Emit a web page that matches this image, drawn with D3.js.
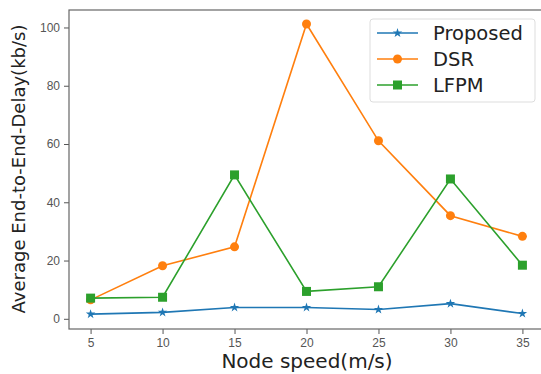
<!DOCTYPE html>
<html>
<head>
<meta charset="utf-8">
<script src="https://cdn.jsdelivr.net/npm/d3@7"></script>
<style>
  body { margin: 0; background: #fff; }
  svg { display: block; font-family: "DejaVu Sans", sans-serif; }
</style>
</head>
<body>
<svg width="541" height="374"></svg>
<script>
// node speed values on the x axis
let speeds = [5, 10, 15, 20, 25, 30, 35];
let proposed = [1.6, 2.2, 3.9, 3.9, 3.2, 5.2, 1.8];
let dsr = [6.5, 18.2, 24.7, 101.2, 61.1, 35.4, 28.3];
let lfpm = [7.1, 7.4, 49.4, 9.4, 11.0, 48.0, 18.4];
let yTicks = [0, 20, 40, 60, 80, 100];

let series = [
    {name: "Proposed", values: proposed, color: "#1f77b4", marker: "star"},
    {name: "DSR", values: dsr, color: "#ff7f0e", marker: "circle"},
    {name: "LFPM", values: lfpm, color: "#2ca02c", marker: "square"},
];

let svg = d3.select("svg");
let plotLeft = 69, plotRight = 544, plotTop = 10, plotBottom = 329;

let x = d3.scaleLinear().domain([3.5, 36.5]).range([plotLeft, plotRight]);
let y = d3.scaleLinear().domain([-3.5, 106]).range([plotBottom, plotTop]);

// axes
let xAxis = svg.append("g")
    .attr("transform", "translate(0," + plotBottom + ")")
    .call(d3.axisBottom(x).tickValues(speeds).tickSize(5).tickPadding(4));
let yAxis = svg.append("g")
    .attr("transform", "translate(" + plotLeft + ",0)")
    .call(d3.axisLeft(y).tickValues(yTicks).tickSize(5).tickPadding(4));

[xAxis, yAxis].forEach(a => {
    a.select(".domain").remove();
    a.selectAll("line").attr("stroke", "#555").attr("stroke-width", 1);
    a.selectAll("text").attr("fill", "#555").style("font-size", "12px");
});

// frame
svg.append("rect")
    .attr("x", plotLeft).attr("y", plotTop)
    .attr("width", plotRight - plotLeft).attr("height", plotBottom - plotTop)
    .attr("fill", "none").attr("stroke", "#666").attr("stroke-width", 1.2);

let line = d3.line()
    .x((d, i) => x(speeds[i]))
    .y(d => y(d));

function drawMarker(g, type, color, cx, cy) {
    if (type === "circle") {
        g.append("circle").attr("cx", cx).attr("cy", cy).attr("r", 4.5).attr("fill", color);
    } else if (type === "square") {
        g.append("rect").attr("x", cx - 4.5).attr("y", cy - 4.5)
            .attr("width", 9).attr("height", 9).attr("fill", color);
    } else {
        g.append("path")
            .attr("d", d3.symbol().type(d3.symbolStar).size(28)())
            .attr("transform", "translate(" + cx + "," + cy + ")")
            .attr("fill", color);
    }
}

series.forEach(s => {
    svg.append("path")
        .datum(s.values)
        .attr("d", line)
        .attr("fill", "none")
        .attr("stroke", s.color)
        .attr("stroke-width", 1.6);
    let g = svg.append("g");
    s.values.forEach((v, i) => drawMarker(g, s.marker, s.color, x(speeds[i]), y(v)));
});

// axis labels
svg.append("text")
    .attr("x", 307).attr("y", 368)
    .attr("text-anchor", "middle")
    .attr("fill", "#222")
    .style("font-size", "20px")
    .text("Node speed(m/s)");

svg.append("text")
    .attr("transform", "translate(25,169) rotate(-90)")
    .attr("text-anchor", "middle")
    .attr("fill", "#222")
    .style("font-size", "18px")
    .text("Average End-to-End-Delay(kb/s)");

// legend
let legend = svg.append("g");
legend.append("rect")
    .attr("x", 370).attr("y", 19)
    .attr("width", 165).attr("height", 83)
    .attr("rx", 3)
    .attr("fill", "#fff").attr("stroke", "#ddd").attr("stroke-width", 1);

series.forEach((s, i) => {
    let cy = 33 + i * 26;
    legend.append("line")
        .attr("x1", 377).attr("x2", 418)
        .attr("y1", cy).attr("y2", cy)
        .attr("stroke", s.color).attr("stroke-width", 1.6);
    drawMarker(legend, s.marker, s.color, 397.5, cy);
    legend.append("text")
        .attr("x", 433).attr("y", cy)
        .attr("dy", "0.35em")
        .attr("fill", "#222")
        .style("font-size", "19.5px")
        .text(s.name);
});
</script>
</body>
</html>
